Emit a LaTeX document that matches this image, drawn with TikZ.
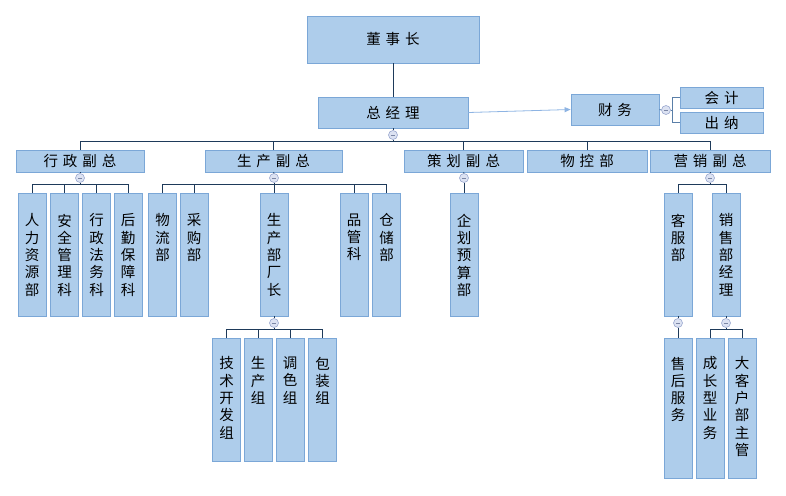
\documentclass[tikz,border=0pt]{standalone}
\usepackage{fontspec}
\newfontfamily\cjk{Noto Sans CJK SC}
\usetikzlibrary{arrows.meta}
\definecolor{boxfill}{HTML}{AECDEB}
\definecolor{boxdraw}{HTML}{7BA7D7}
\definecolor{linec}{HTML}{1E3A5A}
\definecolor{circfill}{HTML}{DCE2F2}
\definecolor{circdraw}{HTML}{9AA8CF}
\definecolor{arrowc}{HTML}{8EB4E3}
\definecolor{brackc}{HTML}{5A7FA8}
\newcommand\gp{\hspace{5pt}}
\tikzset{
  bx/.style={draw=boxdraw, fill=boxfill, line width=0.8pt, inner sep=0pt, font=\cjk\fontsize{14.5}{17}\selectfont, text=black},
  vb/.style={bx, minimum width=28pt},
  vt/.style={anchor=north, inner sep=0pt, align=center, font=\cjk\fontsize{14.5}{17.3}\selectfont},
  cc/.style={circle, draw=circdraw, fill=circfill, line width=0.6pt, minimum size=9pt, inner sep=0pt,
    path picture={\draw[circdraw!80!black, line width=0.6pt] ([xshift=-2.2pt]path picture bounding box.center) -- ([xshift=2.2pt]path picture bounding box.center);}},
  ln/.style={draw=linec, line width=0.8pt},
}
\begin{document}
\begin{tikzpicture}[x=1pt, y=-1pt]
\useasboundingbox (0,0) rectangle (786,495);
% top
\node[bx, minimum width=172pt, minimum height=47pt] (dsz) at (393,39.5) {董\gp{}事\gp{}长};
\node[bx, minimum width=150pt, minimum height=31pt] (zjl) at (393,112.5) {总\gp{}经\gp{}理};
\node[cc] (c0) at (393,135) {};
\coordinate (b0) at (393,141);
% finance
\node[bx, minimum width=88pt, minimum height=31pt] (cw) at (615,109.5) {财\gp{}务};
\node[cc] (cf) at (666,110) {};
\coordinate (bf) at (672,110);
\node[bx, minimum width=83pt, minimum height=21pt] (kj) at (721.5,97.5) {会\gp{}计};
\node[bx, minimum width=83pt, minimum height=21pt] (cn) at (721.5,122.5) {出\gp{}纳};
% level 2
\node[bx, minimum width=128pt, minimum height=22pt] (xz) at (80,161) {行\gp{}政\gp{}副\gp{}总};
\node[bx, minimum width=137pt, minimum height=22pt] (sc) at (273.5,161) {生\gp{}产\gp{}副\gp{}总};
\node[bx, minimum width=119pt, minimum height=22pt] (ch) at (463.5,161) {策\gp{}划\gp{}副\gp{}总};
\node[bx, minimum width=120pt, minimum height=22pt] (wk) at (587,161) {物\gp{}控\gp{}部};
\node[bx, minimum width=120pt, minimum height=22pt] (yx) at (710,161) {营\gp{}销\gp{}副\gp{}总};
\node[cc] (c1) at (80,178) {};
\node[cc] (c2) at (274,178) {};
\node[cc] (c3) at (464,178) {};
\node[cc] (c5) at (710,178) {};
\coordinate (b1) at (80,184);
\coordinate (b2) at (274,184);
\coordinate (b3) at (464,184);
\coordinate (b5) at (710,184);
% level 3
\foreach \n/\x in {hr/32, aq/64.5, fw/96.5, hq/128, wl/162.5, cg/194, cz/274, pg/354, cc3/386.5, qh/464, kf/678, xs/726}
  \node[vb, minimum height=123pt] (\n) at (\x,254.5) {};
\node[vt] at ([yshift=-21pt]hr.north) {人\\力\\资\\源\\部};
\node[vt] at ([yshift=-21pt]aq.north) {安\\全\\管\\理\\科};
\node[vt] at ([yshift=-21pt]fw.north) {行\\政\\法\\务\\科};
\node[vt] at ([yshift=-21pt]hq.north) {后\\勤\\保\\障\\科};
\node[vt] at ([yshift=-21pt]wl.north) {物\\流\\部};
\node[vt] at ([yshift=-21pt]cg.north) {采\\购\\部};
\node[vt] at ([yshift=-21pt]cz.north) {生\\产\\部\\厂\\长};
\node[vt] at ([yshift=-21pt]pg.north) {品\\管\\科};
\node[vt] at ([yshift=-21pt]cc3.north) {仓\\储\\部};
\node[vt] at ([yshift=-21pt]qh.north) {企\\划\\预\\算\\部};
\node[vt] at ([yshift=-21pt]kf.north) {客\\服\\部};
\node[vt] at ([yshift=-21pt]xs.north) {销\\售\\部\\经\\理};
\node[cc] (c6) at (274,323) {};
\node[cc] (c7) at (678,323) {};
\node[cc] (c8) at (726,323) {};
\coordinate (b6) at (274,329);
\coordinate (b8) at (726,329);
% level 4
\foreach \n/\x in {js/226.5, scz/258, ts/290, bz/322.5}
  \node[vb, minimum height=123pt] (\n) at (\x,399.5) {};
\foreach \n/\x in {sh/678, cx/710, dk/742}
  \node[vb, minimum height=140pt] (\n) at (\x,408) {};
\node[vt] at ([yshift=-19pt]js.north) {技\\术\\开\\发\\组};
\node[vt] at ([yshift=-19pt]scz.north) {生\\产\\组};
\node[vt] at ([yshift=-19pt]ts.north) {调\\色\\组};
\node[vt] at ([yshift=-19pt]bz.north) {包\\装\\组};
\node[vt] at ([yshift=-19pt]sh.north) {售\\后\\服\\务};
\node[vt] at ([yshift=-19pt]cx.north) {成\\长\\型\\业\\务};
\node[vt] at ([yshift=-19pt]dk.north) {大\\客\\户\\部\\主\\管};
% connectors
\draw[ln] (dsz.south) -- (zjl.north);
\draw[ln] (zjl.south) -- (c0.north);
\draw[ln] (c0.south) -- (b0);
\foreach \n in {xz,sc,ch,wk,yx} \draw[ln] (b0) -| (\n.north);
\draw[arrowc, line width=0.8pt, -{Triangle[length=6pt,width=5pt]}] (zjl.east) -- (cw.west);
\draw[brackc, line width=0.8pt] (cw.east) -- (cf.west);
\draw[brackc, line width=0.8pt] (cf.east) -- (bf);
\draw[brackc, line width=0.8pt] (bf) |- (kj.west);
\draw[brackc, line width=0.8pt] (bf) |- (cn.west);
\foreach \p/\c/\b in {xz/c1/b1, sc/c2/b2, ch/c3/b3, yx/c5/b5}{
  \draw[ln] (\p.south) -- (\c.north);
  \draw[ln] (\c.south) -- (\b);
}
\foreach \n in {hr,aq,fw,hq} \draw[ln] (b1) -| (\n.north);
\foreach \n in {wl,cg,cz,pg,cc3} \draw[ln] (b2) -| (\n.north);
\draw[ln] (b3) -- (qh.north);
\foreach \n in {kf,xs} \draw[ln] (b5) -| (\n.north);
\draw[ln] (cz.south) -- (c6.north);
\draw[ln] (c6.south) -- (b6);
\foreach \n in {js,scz,ts,bz} \draw[ln] (b6) -| (\n.north);
\draw[ln] (kf.south) -- (c7.north);
\draw[ln] (c7.south) -- (sh.north);
\draw[ln] (xs.south) -- (c8.north);
\draw[ln] (c8.south) -- (b8);
\foreach \n in {cx,dk} \draw[ln] (b8) -| (\n.north);
\end{tikzpicture}
\end{document}
